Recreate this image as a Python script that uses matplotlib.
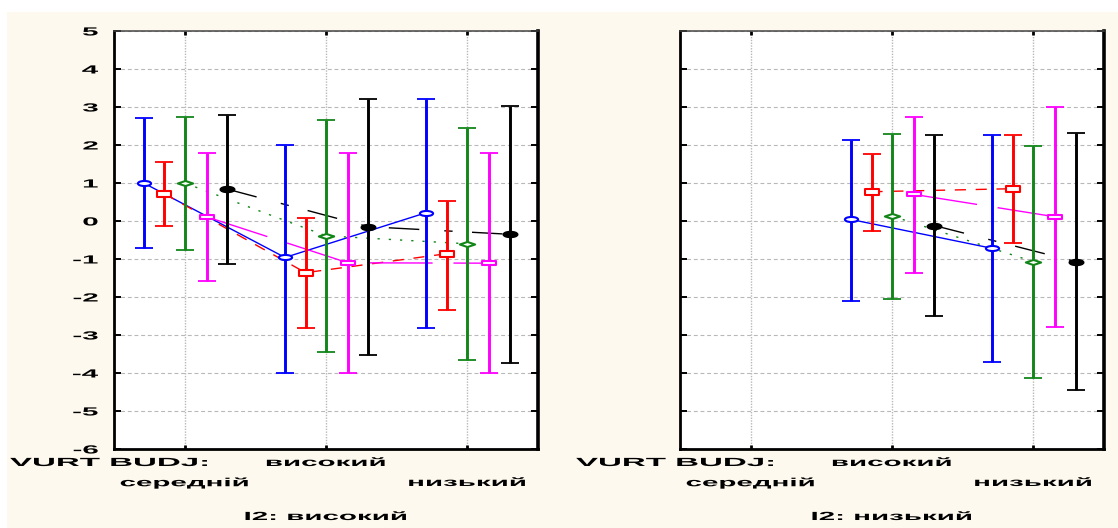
import numpy as np
import matplotlib
matplotlib.use("Agg")
import matplotlib.pyplot as plt
from matplotlib.patches import Rectangle
from matplotlib.path import Path
from matplotlib.transforms import Affine2D
from matplotlib.patheffects import AbstractPathEffect

# ---------------- data ----------------
categories = ["середній", "високий", "низький"]
factor_label = "VURT BUDJ:"
panel_titles = ["I2: високий", "I2: низький"]
y_ticks = [5, 4, 3, 2, 1, 0, -1, -2, -3, -4, -5, -6]

nan = np.nan
# panel 1 (I2: високий): mean, lower and upper limits per category
p1_blue_mean = [1.00, -0.96, 0.22]
p1_blue_lo = [-0.72, -4.00, -2.82]
p1_blue_hi = [2.72, 1.99, 3.20]
p1_red_mean = [0.72, -1.36, -0.86]
p1_red_lo = [-0.12, -2.82, -2.34]
p1_red_hi = [1.54, 0.07, 0.52]
p1_green_mean = [1.00, -0.39, -0.60]
p1_green_lo = [-0.76, -3.44, -3.66]
p1_green_hi = [2.74, 2.66, 2.46]
p1_magenta_mean = [0.11, -1.10, -1.11]
p1_magenta_lo = [-1.58, -4.00, -4.00]
p1_magenta_hi = [1.78, 1.78, 1.78]
p1_black_mean = [0.84, -0.15, -0.35]
p1_black_lo = [-1.12, -3.52, -3.74]
p1_black_hi = [2.78, 3.20, 3.02]

# panel 2 (I2: низький): no observations in the first category
p2_blue_mean = [nan, 0.04, -0.72]
p2_blue_lo = [nan, -2.10, -3.72]
p2_blue_hi = [nan, 2.14, 2.26]
p2_red_mean = [nan, 0.77, 0.85]
p2_red_lo = [nan, -0.25, -0.58]
p2_red_hi = [nan, 1.76, 2.26]
p2_green_mean = [nan, 0.13, -1.07]
p2_green_lo = [nan, -2.04, -4.12]
p2_green_hi = [nan, 2.30, 1.98]
p2_magenta_mean = [nan, 0.70, 0.11]
p2_magenta_lo = [nan, -1.36, -2.80]
p2_magenta_hi = [nan, 2.75, 3.00]
p2_black_mean = [nan, -0.12, -1.07]
p2_black_lo = [nan, -2.50, -4.45]
p2_black_hi = [nan, 2.26, 2.31]

panels = [
    [(p1_blue_mean, p1_blue_lo, p1_blue_hi),
     (p1_red_mean, p1_red_lo, p1_red_hi),
     (p1_green_mean, p1_green_lo, p1_green_hi),
     (p1_magenta_mean, p1_magenta_lo, p1_magenta_hi),
     (p1_black_mean, p1_black_lo, p1_black_hi)],
    [(p2_blue_mean, p2_blue_lo, p2_blue_hi),
     (p2_red_mean, p2_red_lo, p2_red_hi),
     (p2_green_mean, p2_green_lo, p2_green_hi),
     (p2_magenta_mean, p2_magenta_lo, p2_magenta_hi),
     (p2_black_mean, p2_black_lo, p2_black_hi)],
]


# ---------------- styling helpers ----------------
class Stretch(AbstractPathEffect):
    """Widen glyphs horizontally around an anchor (0 left, 0.5 centre, 1 right)."""

    def __init__(self, sx, anchor=0.5):
        super().__init__()
        self.sx = sx
        self.anchor = anchor

    def draw_path(self, renderer, gc, tpath, affine, rgbFace=None):
        ext = tpath.get_extents()
        x0 = ext.x0 + self.anchor * ext.width
        t = Affine2D().translate(-x0, 0).scale(self.sx, 1).translate(x0, 0) + affine
        renderer.draw_path(gc, tpath, t, rgbFace)


def shape(verts):
    return Path(verts + [verts[0]], closed=True)


def ellipse(w, h):
    return Path.unit_circle().transformed(Affine2D().scale(w, h))


SX = 2.5
FONT = dict(family=["Liberation Sans", "DejaVu Sans"], weight="bold", size=8.5)
GRID = "#b8b8b8"
CREAM = "#fdf9ee"

styles = [
    dict(color="#0000ff", ls="-", marker=ellipse(2.6, 1.0), ms=9.5, mfc="white"),
    dict(color="#ff0000", ls=(0, (8, 7)), marker=shape([(-2.2, -1), (2.2, -1), (2.2, 1), (-2.2, 1)]),
         ms=9.5, mfc="white"),
    dict(color="#13861a", ls=(0, (1.6, 6.5)), marker=shape([(-3.0, 0), (0, 1), (3.0, 0), (0, -1)]),
         ms=11, mfc="white"),
    dict(color="#ff00ff", ls=(0, (46, 15)), marker=shape([(-3.6, -0.8), (3.6, -0.8), (3.6, 0.8), (-3.6, 0.8)]),
         ms=10, mfc="white"),
    dict(color="#000000", ls=(0, (22, 18, 6, 14)), marker=ellipse(2.6, 1.0),
         ms=10, mfc="#000000"),
]
offsets = [-0.29, -0.145, 0.0, 0.155, 0.30]

# ---------------- figure ----------------
W, H = 1118, 528
fig = plt.figure(figsize=(W / 100, H / 100), dpi=100, facecolor="white")
fig.patches.append(Rectangle((7 / W, 0), 1, (H - 12) / H, transform=fig.transFigure,
                             facecolor=CREAM, edgecolor="none", zorder=-10))

ax_left_px = [114, 680]
ax_w_px, ax_top_px, ax_bot_px = 424, 31, 449
x = np.arange(len(categories))

for pi, (series, left_px) in enumerate(zip(panels, ax_left_px)):
    ax = fig.add_axes([left_px / W, (H - ax_bot_px) / H, ax_w_px / W, (ax_bot_px - ax_top_px) / H])
    ax.set_facecolor("white")
    ax.set_xlim(-0.5, 2.5)
    ax.set_ylim(-6, 5)

    # grid
    for yv in y_ticks:
        ax.axhline(yv, color=GRID, lw=0.8, ls=(0, (3.5, 2.5)), zorder=0.5)
    for xv in x:
        ax.axvline(xv, color=GRID, lw=1.0, ls=(0, (1, 1)), zorder=0.5)

    # series
    for (mean, lo, hi), st, off in zip(series, styles, offsets):
        mean = np.asarray(mean, float)
        lo = np.asarray(lo, float)
        hi = np.asarray(hi, float)
        xs = x + off
        ax.plot(xs, mean, color=st["color"], ls=st["ls"], lw=1.0, zorder=2)
        ax.errorbar(xs, mean, yerr=[mean - lo, hi - mean], fmt="none", ecolor=st["color"],
                    elinewidth=2.1, capsize=6.5, capthick=1.3, zorder=3)
        ax.plot(xs, mean, ls="none", marker=st["marker"], ms=st["ms"], mfc=st["mfc"],
                mec=st["color"], mew=1.5, zorder=4)

    # spines and ticks
    for side in ["left", "bottom"]:
        ax.spines[side].set_linewidth(2.0)
        ax.spines[side].set_color("black")
    ax.spines["right"].set_linewidth(2.6)
    ax.spines["right"].set_color("black")
    ax.spines["top"].set_linewidth(1.1)
    ax.spines["top"].set_color("#444444")

    ax.set_yticks(y_ticks)
    ax.set_xticks(x)
    ax.set_xticklabels([])
    ax.tick_params(axis="y", direction="in", length=5, width=1.4, left=True, right=True,
                   pad=11.5, colors="black")
    ax.tick_params(axis="x", direction="in", length=3, width=2.0, top=True, bottom=True,
                   colors="black")
    if pi == 0:
        ax.set_yticklabels([str(v) for v in y_ticks], fontdict=FONT)
        for lbl in ax.get_yticklabels():
            lbl.set_path_effects([Stretch(SX, 1.0)])
    else:
        ax.set_yticklabels([])

    # category labels in a staggered table below the axis
    tr = ax.get_xaxis_transform()
    t = ax.text(-0.245, -0.0335, factor_label, transform=ax.transAxes, ha="left", va="center",
                fontdict=FONT)
    t.set_path_effects([Stretch(2.8, 0.0)])
    for xi, cat in enumerate(categories):
        yrow = -0.0335 if xi == 1 else -0.0813
        t = ax.text(xi, yrow, cat, transform=tr, ha="center", va="center", fontdict=FONT)
        t.set_path_effects([Stretch(SX, 0.5)])
    t = ax.text(0.5, -0.1627, panel_titles[pi], transform=ax.transAxes, ha="center", va="center",
                fontdict=FONT)
    t.set_path_effects([Stretch(SX, 0.5)])

fig.savefig("out.png", dpi=100, facecolor=fig.get_facecolor())
